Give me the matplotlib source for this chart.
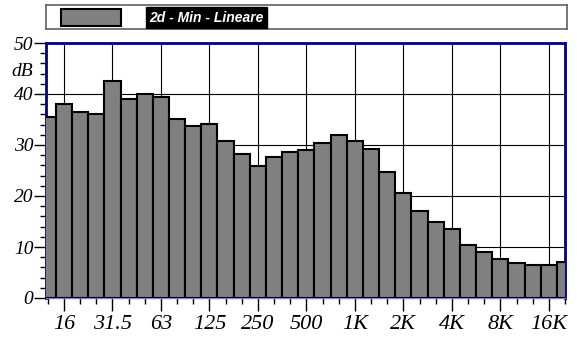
import matplotlib
matplotlib.use("Agg")
import matplotlib.pyplot as plt
from matplotlib.patches import Rectangle
import numpy as np

# terzi d'ottava 12.5 Hz - 20 kHz
bande = ["12.5", "16", "20", "25", "31.5", "40", "50", "63", "80", "100",
         "125", "160", "200", "250", "315", "400", "500", "630", "800", "1K",
         "1.25K", "1.6K", "2K", "2.5K", "3.15K", "4K", "5K", "6.3K", "8K", "10K",
         "12.5K", "16K", "20K"]
livelli = [35.4, 38.1, 36.4, 36.0, 42.5, 39.0, 40.0, 39.5, 35.1, 33.8,
           34.1, 30.7, 28.2, 25.8, 27.6, 28.7, 29.0, 30.3, 32.0, 30.7,
           29.2, 24.8, 20.5, 17.0, 14.9, 13.5, 10.4, 9.1, 7.7, 6.9,
           6.5, 6.5, 7.1]
etichette_ottava = ["16", "31.5", "63", "125", "250", "500", "1K", "2K", "4K", "8K", "16K"]
etichette_db = ["0", "10", "20", "30", "40", "50"]
legenda = "2d - Min - Lineare"

plt.rcParams["font.family"] = "Liberation Serif"
plt.rcParams["font.style"] = "italic"
navy = "#000080"

fig = plt.figure(figsize=(5.77, 3.4), dpi=100)
ax = fig.add_axes([46 / 577, 42 / 340, 519 / 577, 255 / 340])

x = np.arange(len(bande))
ax.bar(x, livelli, width=1.0, color="#808080", edgecolor="black",
       linewidth=1.5, zorder=3)

ax.set_xlim(-0.11, 31.97)
ax.set_ylim(0, 50)

# griglia sulle ottave e ogni 10 dB
pos_ottave = [bande.index(e) for e in etichette_ottava]
ax.set_xticks(pos_ottave, etichette_ottava)
ax.set_xticks(x, minor=True)
ax.set_yticks([int(v) for v in etichette_db], etichette_db)
ax.set_yticks(np.arange(0, 51, 2), minor=True)
ax.tick_params(axis="x", which="major", length=9, width=1, pad=3)
ax.tick_params(axis="x", which="minor", length=4, width=1)
ax.tick_params(axis="y", which="major", length=9, width=1, pad=0)
ax.tick_params(axis="y", which="minor", length=4.5, width=1)
ax.grid(True, which="major", color="black", linewidth=0.8, zorder=0)
ax.set_axisbelow(True)
plt.setp(ax.get_xticklabels(), fontsize=16, fontstyle="italic", family="Liberation Serif")
plt.setp(ax.get_yticklabels(), fontsize=14, fontstyle="italic", family="Liberation Serif")

for s in ax.spines.values():
    s.set_color(navy)
    s.set_linewidth(2)
ax.spines["bottom"].set_color("#8080c0")
ax.spines["bottom"].set_linewidth(1)

ax.text(-0.9, 44.5, "dB", fontsize=14, ha="right", va="center")

# riquadro legenda
lg = fig.add_axes([46 / 577, 311 / 340, 521 / 577, 24 / 340])
lg.set_xlim(0, 521)
lg.set_ylim(0, 24)
lg.set_xticks([])
lg.set_yticks([])
for s in lg.spines.values():
    s.set_color("#606060")
    s.set_linewidth(1.2)
lg.add_patch(Rectangle((15, 3), 60, 17, facecolor="#808080", edgecolor="black", linewidth=1.5))
lg.text(103, 11.5, legenda, color="white", fontsize=10, fontweight="bold",
        fontstyle="italic", family="Liberation Sans", va="center", ha="left",
        bbox=dict(facecolor="black", edgecolor="black", pad=2.5))

fig.savefig("out.png", dpi=100)
